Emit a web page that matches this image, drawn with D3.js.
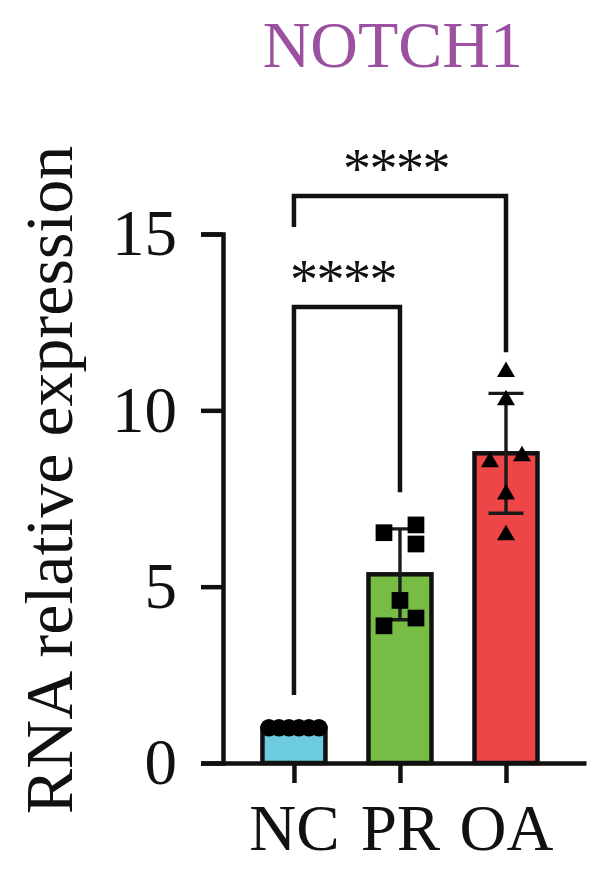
<!DOCTYPE html>
<html>
<head>
<meta charset="utf-8">
<script src="https://cdn.jsdelivr.net/npm/d3@7"></script>
<style>
  body { margin:0; background:#fff; }
  svg { display:block; }
  text { font-family:"Liberation Serif","Times New Roman",serif; fill:#111; }
</style>
</head>
<body>
<div id="chart"></div>
<script>
// values
var categories = ["NC", "PR", "OA"];
var valuesNC = [1, 1, 1, 1, 1, 1];
var valuesPR = [6.75, 6.53, 6.21, 4.61, 4.11, 3.89];
var valuesOA = [11.09, 10.29, 8.70, 8.53, 7.62, 6.46];
var barColors = ["#6dcbe0", "#77bd45", "#ee4646"];
var yTicks = [0, 5, 10, 15];
var compareFrom = ["NC", "NC"];
var compareTo = ["PR", "OA"];
var compareLevel = [12.93, 16.08];
var compareLegFrom = [1.93, 15.2];
var compareLegTo = [7.68, 11.65];
var compareLabel = ["****", "****"];

var W = 600, H = 875;
var groups = [valuesNC, valuesPR, valuesOA];
var markSize = 16, barW = 63, capHalf = 17.5, lw = 4.5;

var svg = d3.select("#chart").append("svg")
    .attr("width", W).attr("height", H);

var x = d3.scalePoint().domain(categories)
    .range([223, 586]).padding(0.712).align(0.47);
var y = d3.scaleLinear().domain([0, 15]).range([763, 234]);

// title
svg.append("text")
    .attr("x", 523).attr("y", 67)
    .attr("text-anchor", "end")
    .style("font-size", "66px")
    .style("fill", "#9b51a0")
    .text("NOTCH1");

// y axis title
svg.append("text")
    .attr("transform", "translate(72,480) rotate(-90)")
    .attr("text-anchor", "middle")
    .style("font-size", "68px")
    .text("RNA relative expression");

// axes
var gy = svg.append("g").attr("transform", "translate(223,0)")
    .call(d3.axisLeft(y).tickValues(yTicks).tickSize(22).tickSizeOuter(22).tickPadding(24));
var gx = svg.append("g").attr("transform", "translate(0,763)")
    .call(d3.axisBottom(x).tickSize(20).tickSizeOuter(0));

[gy, gx].forEach(function(g){
    g.select(".domain").style("stroke", "#111").style("stroke-width", lw).style("fill", "none");
    g.selectAll(".tick line").style("stroke", "#111").style("stroke-width", lw);
    g.selectAll(".tick text").style("font-size", "65px").style("fill", "#111")
        .style("font-family", "'Liberation Serif','Times New Roman',serif");
});
gy.selectAll(".tick text").attr("dy", "0.32em");
gx.selectAll(".tick text").attr("y", 87).attr("dy", 0);

// spread points sideways when they would overlap (like a scatter dot plot)
function dodge(vals) {
    var pts = vals.map(function(v, i){ return {i:i, py:y(v)}; })
        .sort(function(a, b){ return a.py - b.py; });
    var out = vals.map(function(){ return 0; });
    var clusters = [], cur = [pts[0]];
    for (var k = 1; k < pts.length; k++) {
        if (pts[k].py - pts[k-1].py < markSize) cur.push(pts[k]);
        else { clusters.push(cur); cur = [pts[k]]; }
    }
    clusters.push(cur);
    clusters.forEach(function(c){
        if (c.length < 2) return;
        var span = c[c.length-1].py - c[0].py;
        if (span < 2) {
            var maxSpread = barW/2 - 6.5;
            var s = Math.min(markSize, 2*maxSpread/(c.length-1));
            c.forEach(function(p, j){ out[p.i] = (j - (c.length-1)/2) * s; });
        } else {
            c.forEach(function(p, j){ out[p.i] = (j % 2 == 0 ? 1 : -1) * markSize; });
        }
    });
    return out;
}

var stats = groups.map(function(vals, i){
    return {
        cat: categories[i],
        color: barColors[i],
        vals: vals,
        mean: d3.mean(vals),
        sd: d3.deviation(vals) || 0,
        offs: dodge(vals)
    };
});

var plot = svg.append("g");

// bars
plot.selectAll("rect.bar").data(stats).enter().append("rect")
    .attr("class", "bar")
    .attr("x", function(d){ return x(d.cat) - barW/2; })
    .attr("width", barW)
    .attr("y", function(d){ return y(d.mean); })
    .attr("height", function(d){ return y(0) - y(d.mean); })
    .style("fill", function(d){ return d.color; })
    .style("stroke", "#111")
    .style("stroke-width", lw);

// error bars (mean +- sd)
var eb = plot.selectAll("g.err").data(stats.filter(function(d){ return d.sd > 0; }))
    .enter().append("g").attr("class", "err")
    .style("stroke", "#1a1a1a").style("stroke-width", 3.4);
eb.append("line")
    .attr("x1", function(d){ return x(d.cat); })
    .attr("x2", function(d){ return x(d.cat); })
    .attr("y1", function(d){ return y(d.mean - d.sd); })
    .attr("y2", function(d){ return y(d.mean + d.sd); });
[1, -1].forEach(function(sgn){
    eb.append("line")
        .attr("x1", function(d){ return x(d.cat) - capHalf; })
        .attr("x2", function(d){ return x(d.cat) + capHalf; })
        .attr("y1", function(d){ return y(d.mean + sgn*d.sd); })
        .attr("y2", function(d){ return y(d.mean + sgn*d.sd); });
});

// points
var symbols = [d3.symbolCircle, d3.symbolSquare, d3.symbolTriangle];
var symSizes = [240, 280, 140];
stats.forEach(function(s, gi){
    var sym = d3.symbol().type(symbols[gi]).size(symSizes[gi]);
    plot.selectAll("path.pt-" + gi).data(s.vals).enter().append("path")
        .attr("class", "pt-" + gi)
        .attr("d", sym)
        .attr("transform", function(v, i){
            return "translate(" + (x(s.cat) + s.offs[i]) + "," + y(v) + ")";
        })
        .style("fill", "#000");
});

// significance brackets
var br = svg.append("g").style("stroke", "#111").style("stroke-width", lw).style("fill", "none");
compareFrom.forEach(function(a, i){
    var b = compareTo[i];
    var x1 = x(a), x2 = x(b), yl = y(compareLevel[i]);
    br.append("path")
        .attr("d", "M" + x1 + "," + y(compareLegFrom[i]) + "V" + yl + "H" + x2 + "V" + y(compareLegTo[i]));
    svg.append("text")
        .attr("x", (x1 + x2)/2 - 4)
        .attr("y", yl - 8)
        .attr("text-anchor", "middle")
        .style("font-size", "56px")
        .style("letter-spacing", "-1.5px")
        .text(compareLabel[i]);
});
</script>
</body>
</html>
